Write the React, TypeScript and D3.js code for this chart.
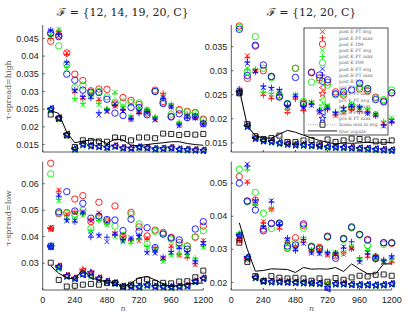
import * as d3 from 'd3';

// sample sizes on the x axis
const N = [60, 120, 180, 240, 300, 360, 420, 480, 540, 600, 660, 720, 780, 840, 900, 960, 1020, 1080, 1140, 1200];
const X_TICKS = [0, 240, 480, 720, 960, 1200];

const TITLES = ['\u2131 = {12, 14, 19, 20, C}', '\u2131 = {12, 20, C}'];
const ROW_LABELS = ['\u03c4-spread=high', '\u03c4-spread=low'];

const LEGEND_LABELS = [
  'post E PT avg', 'post E PT max', 'post E DM',
  'post K PT avg', 'post K PT max', 'post K DM',
  'post R PT avg', 'post R PT max', 'post R DM',
  'pre E PT avg', 'pre E PT max', 'pre K PT avg', 'pre K PT max',
  'pre R PT avg', 'pre R PT max', 'homo min in avg', 'true copula',
];

// ---- top left: tau-spread high, F = {12,14,19,20,C}
const tlPostEAvg = [0.0455, 0.0466, 0.0409, 0.0302, 0.0283, 0.0294, 0.0278, 0.0245, 0.0258, 0.0252, 0.0225, 0.0245, 0.0245, 0.0222, 0.0290, 0.0258, 0.0207, 0.0231, 0.0228, 0.0208];
const tlPostEMax = [0.0450, 0.0470, 0.0405, 0.0298, 0.0280, 0.0290, 0.0275, 0.0250, 0.0262, 0.0248, 0.0221, 0.0242, 0.0249, 0.0226, 0.0295, 0.0255, 0.0210, 0.0234, 0.0225, 0.0212];
const tlPostEDm = [0.0442, 0.0459, 0.0409, 0.0349, 0.0331, 0.0302, 0.0307, 0.0306, 0.0265, 0.0283, 0.0275, 0.0263, 0.0239, 0.0304, 0.0272, 0.0230, 0.0249, 0.0244, 0.0241, 0.0222];
const tlPostKAvg = [0.0462, 0.0476, 0.0365, 0.0277, 0.0263, 0.0292, 0.0263, 0.0248, 0.0298, 0.0255, 0.0228, 0.0250, 0.0250, 0.0226, 0.0286, 0.0262, 0.0210, 0.0234, 0.0232, 0.0212];
const tlPostKMax = [0.0458, 0.0474, 0.0368, 0.0280, 0.0266, 0.0288, 0.0266, 0.0252, 0.0294, 0.0258, 0.0231, 0.0253, 0.0246, 0.0229, 0.0282, 0.0265, 0.0213, 0.0237, 0.0235, 0.0215];
const tlPostKDm = [0.0463, 0.0429, 0.0377, 0.0311, 0.0318, 0.0295, 0.0300, 0.0285, 0.0270, 0.0270, 0.0268, 0.0268, 0.0245, 0.0300, 0.0268, 0.0236, 0.0246, 0.0242, 0.0239, 0.0219];
const tlPostRAvg = [0.0472, 0.0458, 0.0380, 0.0302, 0.0283, 0.0285, 0.0233, 0.0243, 0.0265, 0.0245, 0.0221, 0.0241, 0.0240, 0.0219, 0.0283, 0.0256, 0.0203, 0.0228, 0.0225, 0.0205];
const tlPostRMax = [0.0474, 0.0462, 0.0383, 0.0305, 0.0286, 0.0281, 0.0241, 0.0247, 0.0261, 0.0248, 0.0224, 0.0238, 0.0243, 0.0222, 0.0280, 0.0259, 0.0206, 0.0225, 0.0228, 0.0208];
const tlPostRDm = [0.0465, 0.0455, 0.0349, 0.0332, 0.0304, 0.0298, 0.0297, 0.0278, 0.0239, 0.0232, 0.0255, 0.0255, 0.0234, 0.0300, 0.0266, 0.0228, 0.0237, 0.0226, 0.0229, 0.0209];
const tlPreEAvg = [0.0252, 0.0226, 0.0180, 0.0138, 0.0151, 0.0148, 0.0146, 0.0144, 0.0147, 0.0142, 0.0141, 0.0144, 0.0142, 0.0139, 0.0140, 0.0142, 0.0138, 0.0137, 0.0136, 0.0135];
const tlPreEMax = [0.0250, 0.0223, 0.0177, 0.0136, 0.0149, 0.0146, 0.0144, 0.0142, 0.0145, 0.0140, 0.0139, 0.0142, 0.0140, 0.0137, 0.0138, 0.0140, 0.0136, 0.0135, 0.0134, 0.0133];
const tlPreKAvg = [0.0248, 0.0224, 0.0178, 0.0137, 0.0150, 0.0147, 0.0145, 0.0143, 0.0146, 0.0141, 0.0140, 0.0143, 0.0141, 0.0138, 0.0139, 0.0141, 0.0137, 0.0136, 0.0135, 0.0134];
const tlPreKMax = [0.0246, 0.0222, 0.0176, 0.0135, 0.0148, 0.0145, 0.0143, 0.0141, 0.0144, 0.0139, 0.0138, 0.0141, 0.0139, 0.0136, 0.0137, 0.0139, 0.0135, 0.0134, 0.0133, 0.0132];
const tlPreRAvg = [0.0251, 0.0225, 0.0179, 0.0139, 0.0152, 0.0147, 0.0145, 0.0143, 0.0146, 0.0141, 0.0140, 0.0143, 0.0141, 0.0138, 0.0139, 0.0141, 0.0137, 0.0136, 0.0135, 0.0134];
const tlPreRMax = [0.0249, 0.0224, 0.0178, 0.0137, 0.0150, 0.0146, 0.0144, 0.0142, 0.0145, 0.0140, 0.0139, 0.0142, 0.0140, 0.0137, 0.0138, 0.0140, 0.0136, 0.0135, 0.0134, 0.0133];
const tlHomo = [0.0235, 0.0224, 0.0176, 0.0143, 0.0162, 0.0160, 0.0159, 0.0158, 0.0170, 0.0168, 0.0162, 0.0170, 0.0170, 0.0168, 0.0181, 0.0180, 0.0177, 0.0180, 0.0178, 0.0180];
const tlTrue = [0.0246, 0.0238, 0.0185, 0.0155, 0.0160, 0.0163, 0.0163, 0.0153, 0.0165, 0.0163, 0.0148, 0.0147, 0.0150, 0.0153, 0.0155, 0.0158, 0.0158, 0.0153, 0.0150, 0.0148];

// ---- top right: tau-spread high, F = {12,20,C}
const trPostEAvg = [0.0256, 0.0331, 0.0298, 0.0252, 0.0245, 0.0252, 0.0215, 0.0245, 0.0220, 0.0234, 0.0212, 0.0222, 0.0206, 0.0212, 0.0222, 0.0218, 0.0215, 0.0207, 0.0190, 0.0197];
const trPostEMax = [0.0253, 0.0327, 0.0301, 0.0249, 0.0242, 0.0249, 0.0213, 0.0241, 0.0217, 0.0230, 0.0215, 0.0219, 0.0209, 0.0215, 0.0219, 0.0215, 0.0212, 0.0210, 0.0188, 0.0194];
const trPostEDm = [0.0393, 0.0284, 0.0351, 0.0300, 0.0288, 0.0247, 0.0230, 0.0305, 0.0233, 0.0297, 0.0285, 0.0276, 0.0256, 0.0249, 0.0223, 0.0262, 0.0258, 0.0245, 0.0237, 0.0254];
const trPostKAvg = [0.0262, 0.0305, 0.0300, 0.0258, 0.0250, 0.0255, 0.0222, 0.0247, 0.0225, 0.0232, 0.0218, 0.0228, 0.0212, 0.0214, 0.0226, 0.0225, 0.0218, 0.0212, 0.0192, 0.0202];
const trPostKMax = [0.0259, 0.0302, 0.0303, 0.0255, 0.0253, 0.0252, 0.0219, 0.0250, 0.0228, 0.0235, 0.0215, 0.0225, 0.0215, 0.0217, 0.0229, 0.0222, 0.0221, 0.0209, 0.0195, 0.0199];
const trPostKDm = [0.0390, 0.0298, 0.0371, 0.0305, 0.0285, 0.0249, 0.0232, 0.0305, 0.0236, 0.0276, 0.0280, 0.0270, 0.0250, 0.0252, 0.0228, 0.0266, 0.0262, 0.0243, 0.0240, 0.0260];
const trPostRAvg = [0.0259, 0.0315, 0.0300, 0.0265, 0.0262, 0.0258, 0.0225, 0.0249, 0.0223, 0.0228, 0.0215, 0.0225, 0.0210, 0.0220, 0.0228, 0.0222, 0.0211, 0.0209, 0.0185, 0.0195];
const trPostRMax = [0.0262, 0.0318, 0.0297, 0.0268, 0.0265, 0.0261, 0.0228, 0.0246, 0.0226, 0.0231, 0.0218, 0.0222, 0.0213, 0.0223, 0.0225, 0.0225, 0.0214, 0.0206, 0.0187, 0.0192];
const trPostRDm = [0.0386, 0.0290, 0.0353, 0.0312, 0.0288, 0.0245, 0.0231, 0.0286, 0.0230, 0.0296, 0.0291, 0.0281, 0.0252, 0.0256, 0.0260, 0.0274, 0.0263, 0.0240, 0.0235, 0.0254];
const trPreEAvg = [0.0257, 0.0186, 0.0161, 0.0156, 0.0154, 0.0151, 0.0149, 0.0148, 0.0147, 0.0146, 0.0145, 0.0143, 0.0143, 0.0142, 0.0141, 0.0140, 0.0139, 0.0138, 0.0137, 0.0136];
const trPreEMax = [0.0255, 0.0184, 0.0159, 0.0154, 0.0152, 0.0149, 0.0147, 0.0146, 0.0145, 0.0144, 0.0143, 0.0141, 0.0141, 0.0140, 0.0139, 0.0138, 0.0137, 0.0136, 0.0135, 0.0134];
const trPreKAvg = [0.0256, 0.0185, 0.0160, 0.0155, 0.0153, 0.0150, 0.0148, 0.0147, 0.0146, 0.0145, 0.0144, 0.0142, 0.0142, 0.0141, 0.0140, 0.0139, 0.0138, 0.0137, 0.0136, 0.0135];
const trPreKMax = [0.0254, 0.0183, 0.0158, 0.0153, 0.0151, 0.0148, 0.0146, 0.0145, 0.0144, 0.0143, 0.0142, 0.0140, 0.0140, 0.0139, 0.0138, 0.0137, 0.0136, 0.0135, 0.0134, 0.0133];
const trPreRAvg = [0.0256, 0.0186, 0.0160, 0.0155, 0.0153, 0.0150, 0.0148, 0.0146, 0.0146, 0.0145, 0.0144, 0.0142, 0.0141, 0.0141, 0.0140, 0.0139, 0.0138, 0.0137, 0.0136, 0.0135];
const trPreRMax = [0.0255, 0.0184, 0.0159, 0.0154, 0.0152, 0.0149, 0.0147, 0.0145, 0.0145, 0.0144, 0.0143, 0.0141, 0.0140, 0.0140, 0.0139, 0.0138, 0.0137, 0.0136, 0.0135, 0.0134];
const trHomo = [0.0253, 0.0189, 0.0164, 0.0158, 0.0160, 0.0165, 0.0152, 0.0152, 0.0155, 0.0156, 0.0147, 0.0157, 0.0152, 0.0155, 0.0159, 0.0158, 0.0157, 0.0153, 0.0152, 0.0155];
const trTrue = [0.0262, 0.0185, 0.0165, 0.0160, 0.0160, 0.0168, 0.0176, 0.0172, 0.0166, 0.0160, 0.0155, 0.0151, 0.0148, 0.0150, 0.0149, 0.0150, 0.0151, 0.0150, 0.0150, 0.0151];

// ---- bottom left: tau-spread low, F = {12,14,19,20,C}
const blPostEAvg = [0.0435, 0.0576, 0.0485, 0.0490, 0.0490, 0.0460, 0.0490, 0.0455, 0.0410, 0.0395, 0.0390, 0.0385, 0.0395, 0.0355, 0.0320, 0.0365, 0.0330, 0.0325, 0.0294, 0.0386];
const blPostEMax = [0.0430, 0.0572, 0.0481, 0.0494, 0.0486, 0.0464, 0.0486, 0.0451, 0.0414, 0.0399, 0.0386, 0.0389, 0.0391, 0.0359, 0.0316, 0.0361, 0.0334, 0.0321, 0.0298, 0.0382];
const blPostEDm = [0.0677, 0.0487, 0.0491, 0.0542, 0.0555, 0.0457, 0.0530, 0.0460, 0.0516, 0.0398, 0.0492, 0.0437, 0.0403, 0.0425, 0.0416, 0.0398, 0.0378, 0.0365, 0.0398, 0.0440];
const blPostKAvg = [0.0368, 0.0536, 0.0463, 0.0470, 0.0480, 0.0420, 0.0465, 0.0445, 0.0400, 0.0380, 0.0380, 0.0395, 0.0360, 0.0350, 0.0306, 0.0330, 0.0335, 0.0330, 0.0315, 0.0360];
const blPostKMax = [0.0364, 0.0540, 0.0467, 0.0466, 0.0484, 0.0424, 0.0461, 0.0449, 0.0404, 0.0384, 0.0376, 0.0391, 0.0364, 0.0346, 0.0310, 0.0334, 0.0331, 0.0334, 0.0319, 0.0364];
const blPostKDm = [0.0637, 0.0490, 0.0488, 0.0482, 0.0500, 0.0431, 0.0470, 0.0455, 0.0440, 0.0405, 0.0485, 0.0448, 0.0373, 0.0420, 0.0410, 0.0390, 0.0369, 0.0365, 0.0400, 0.0423];
const blPostRAvg = [0.0362, 0.0557, 0.0460, 0.0460, 0.0494, 0.0409, 0.0403, 0.0381, 0.0412, 0.0385, 0.0396, 0.0400, 0.0339, 0.0338, 0.0319, 0.0340, 0.0360, 0.0340, 0.0305, 0.0375];
const blPostRMax = [0.0360, 0.0553, 0.0464, 0.0456, 0.0490, 0.0398, 0.0407, 0.0398, 0.0408, 0.0389, 0.0392, 0.0404, 0.0343, 0.0342, 0.0323, 0.0344, 0.0356, 0.0344, 0.0309, 0.0371];
const blPostRDm = [0.0365, 0.0494, 0.0570, 0.0497, 0.0526, 0.0470, 0.0478, 0.0465, 0.0463, 0.0423, 0.0466, 0.0420, 0.0434, 0.0359, 0.0410, 0.0395, 0.0388, 0.0353, 0.0429, 0.0457];
const blPreEAvg = [0.0432, 0.0290, 0.0254, 0.0245, 0.0271, 0.0262, 0.0245, 0.0233, 0.0227, 0.0214, 0.0214, 0.0213, 0.0220, 0.0214, 0.0213, 0.0212, 0.0214, 0.0217, 0.0233, 0.0245];
const blPreEMax = [0.0430, 0.0288, 0.0252, 0.0243, 0.0274, 0.0259, 0.0243, 0.0231, 0.0225, 0.0212, 0.0212, 0.0211, 0.0218, 0.0212, 0.0211, 0.0210, 0.0212, 0.0215, 0.0231, 0.0243];
const blPreKAvg = [0.0365, 0.0282, 0.0250, 0.0242, 0.0258, 0.0252, 0.0242, 0.0230, 0.0224, 0.0211, 0.0211, 0.0210, 0.0217, 0.0211, 0.0210, 0.0209, 0.0211, 0.0214, 0.0230, 0.0242];
const blPreKMax = [0.0363, 0.0280, 0.0249, 0.0241, 0.0260, 0.0250, 0.0241, 0.0229, 0.0223, 0.0210, 0.0210, 0.0209, 0.0216, 0.0210, 0.0209, 0.0208, 0.0210, 0.0213, 0.0229, 0.0241];
const blPreRAvg = [0.0363, 0.0287, 0.0252, 0.0243, 0.0256, 0.0250, 0.0243, 0.0231, 0.0225, 0.0212, 0.0212, 0.0211, 0.0218, 0.0212, 0.0211, 0.0210, 0.0212, 0.0215, 0.0231, 0.0243];
const blPreRMax = [0.0362, 0.0285, 0.0251, 0.0242, 0.0258, 0.0265, 0.0242, 0.0230, 0.0224, 0.0211, 0.0211, 0.0210, 0.0217, 0.0211, 0.0210, 0.0209, 0.0211, 0.0214, 0.0230, 0.0242];
const blHomo = [0.0302, 0.0237, 0.0212, 0.0215, 0.0219, 0.0222, 0.0219, 0.0225, 0.0225, 0.0212, 0.0219, 0.0234, 0.0239, 0.0226, 0.0226, 0.0224, 0.0231, 0.0232, 0.0247, 0.0272];
const blTrue = [0.0290, 0.0262, 0.0245, 0.0240, 0.0276, 0.0245, 0.0236, 0.0230, 0.0226, 0.0212, 0.0225, 0.0245, 0.0250, 0.0237, 0.0222, 0.0212, 0.0216, 0.0221, 0.0225, 0.0225];

// ---- bottom right: tau-spread low, F = {12,20,C}
const brPostEAvg = [0.0330, 0.0505, 0.0438, 0.0384, 0.0420, 0.0366, 0.0325, 0.0305, 0.0325, 0.0292, 0.0298, 0.0282, 0.0288, 0.0285, 0.0305, 0.0270, 0.0280, 0.0272, 0.0265, 0.0265];
const brPostEMax = [0.0327, 0.0501, 0.0434, 0.0380, 0.0424, 0.0362, 0.0321, 0.0309, 0.0321, 0.0296, 0.0302, 0.0286, 0.0284, 0.0289, 0.0301, 0.0274, 0.0276, 0.0268, 0.0269, 0.0261];
const brPostEDm = [0.0520, 0.0446, 0.0449, 0.0361, 0.0379, 0.0378, 0.0303, 0.0335, 0.0372, 0.0307, 0.0306, 0.0340, 0.0280, 0.0333, 0.0365, 0.0345, 0.0330, 0.0275, 0.0320, 0.0318];
const brPostKAvg = [0.0340, 0.0544, 0.0440, 0.0375, 0.0424, 0.0379, 0.0322, 0.0308, 0.0332, 0.0295, 0.0290, 0.0290, 0.0292, 0.0290, 0.0310, 0.0268, 0.0300, 0.0270, 0.0262, 0.0270];
const brPostKMax = [0.0337, 0.0540, 0.0436, 0.0371, 0.0420, 0.0375, 0.0326, 0.0304, 0.0336, 0.0299, 0.0294, 0.0294, 0.0288, 0.0294, 0.0306, 0.0272, 0.0296, 0.0274, 0.0266, 0.0274];
const brPostKDm = [0.0542, 0.0443, 0.0472, 0.0409, 0.0363, 0.0380, 0.0305, 0.0320, 0.0364, 0.0310, 0.0300, 0.0337, 0.0284, 0.0330, 0.0366, 0.0343, 0.0311, 0.0278, 0.0315, 0.0320];
const brPostRAvg = [0.0343, 0.0558, 0.0445, 0.0366, 0.0447, 0.0378, 0.0330, 0.0300, 0.0318, 0.0288, 0.0286, 0.0286, 0.0285, 0.0308, 0.0302, 0.0261, 0.0290, 0.0276, 0.0261, 0.0276];
const brPostRMax = [0.0340, 0.0552, 0.0449, 0.0370, 0.0443, 0.0374, 0.0334, 0.0296, 0.0330, 0.0292, 0.0290, 0.0290, 0.0289, 0.0304, 0.0323, 0.0265, 0.0286, 0.0280, 0.0265, 0.0280];
const brPostRDm = [0.0500, 0.0446, 0.0419, 0.0356, 0.0378, 0.0379, 0.0310, 0.0313, 0.0377, 0.0308, 0.0302, 0.0338, 0.0273, 0.0332, 0.0368, 0.0345, 0.0328, 0.0272, 0.0320, 0.0320];
const brPreEAvg = [0.0330, 0.0272, 0.0216, 0.0205, 0.0203, 0.0203, 0.0202, 0.0201, 0.0200, 0.0199, 0.0198, 0.0196, 0.0197, 0.0197, 0.0195, 0.0194, 0.0194, 0.0193, 0.0194, 0.0197];
const brPreEMax = [0.0328, 0.0270, 0.0214, 0.0203, 0.0201, 0.0201, 0.0200, 0.0199, 0.0198, 0.0197, 0.0196, 0.0194, 0.0195, 0.0195, 0.0193, 0.0192, 0.0192, 0.0191, 0.0192, 0.0195];
const brPreKAvg = [0.0348, 0.0276, 0.0215, 0.0204, 0.0202, 0.0202, 0.0201, 0.0200, 0.0199, 0.0198, 0.0197, 0.0195, 0.0196, 0.0196, 0.0194, 0.0193, 0.0193, 0.0192, 0.0193, 0.0196];
const brPreKMax = [0.0346, 0.0274, 0.0213, 0.0202, 0.0200, 0.0200, 0.0199, 0.0198, 0.0197, 0.0196, 0.0195, 0.0193, 0.0194, 0.0194, 0.0192, 0.0191, 0.0191, 0.0190, 0.0191, 0.0194];
const brPreRAvg = [0.0343, 0.0277, 0.0215, 0.0204, 0.0202, 0.0202, 0.0201, 0.0200, 0.0199, 0.0198, 0.0197, 0.0180, 0.0196, 0.0196, 0.0194, 0.0193, 0.0193, 0.0192, 0.0193, 0.0196];
const brPreRMax = [0.0341, 0.0275, 0.0214, 0.0203, 0.0201, 0.0201, 0.0200, 0.0199, 0.0198, 0.0197, 0.0196, 0.0184, 0.0195, 0.0195, 0.0193, 0.0192, 0.0192, 0.0191, 0.0192, 0.0195];
const brHomo = [0.0320, 0.0262, 0.0219, 0.0204, 0.0219, 0.0214, 0.0212, 0.0214, 0.0212, 0.0205, 0.0212, 0.0202, 0.0213, 0.0208, 0.0215, 0.0220, 0.0218, 0.0223, 0.0224, 0.0220];
const brTrue = [0.0380, 0.0300, 0.0234, 0.0236, 0.0241, 0.0240, 0.0239, 0.0230, 0.0245, 0.0240, 0.0241, 0.0240, 0.0245, 0.0233, 0.0256, 0.0240, 0.0226, 0.0226, 0.0256, 0.0256];

const RED = '#ff0000';
const GREEN = '#00ee00';
const BLUE = '#0000ff';

type Marker = 'x' | '+' | 'o' | '<' | 'p' | 's';

// colour + marker for the 15 marker series, legend order
const STYLES: { color: string; marker: Marker }[] = [
  { color: RED, marker: 'x' }, { color: RED, marker: '+' }, { color: RED, marker: 'o' },
  { color: GREEN, marker: 'x' }, { color: GREEN, marker: '+' }, { color: GREEN, marker: 'o' },
  { color: BLUE, marker: 'x' }, { color: BLUE, marker: '+' }, { color: BLUE, marker: 'o' },
  { color: RED, marker: '<' }, { color: RED, marker: 'p' },
  { color: GREEN, marker: '<' }, { color: GREEN, marker: 'p' },
  { color: BLUE, marker: '<' }, { color: BLUE, marker: 'p' },
];

const PANEL_SERIES = [
  [tlPostEAvg, tlPostEMax, tlPostEDm, tlPostKAvg, tlPostKMax, tlPostKDm, tlPostRAvg, tlPostRMax, tlPostRDm, tlPreEAvg, tlPreEMax, tlPreKAvg, tlPreKMax, tlPreRAvg, tlPreRMax],
  [trPostEAvg, trPostEMax, trPostEDm, trPostKAvg, trPostKMax, trPostKDm, trPostRAvg, trPostRMax, trPostRDm, trPreEAvg, trPreEMax, trPreKAvg, trPreKMax, trPreRAvg, trPreRMax],
  [blPostEAvg, blPostEMax, blPostEDm, blPostKAvg, blPostKMax, blPostKDm, blPostRAvg, blPostRMax, blPostRDm, blPreEAvg, blPreEMax, blPreKAvg, blPreKMax, blPreRAvg, blPreRMax],
  [brPostEAvg, brPostEMax, brPostEDm, brPostKAvg, brPostKMax, brPostKDm, brPostRAvg, brPostRMax, brPostRDm, brPreEAvg, brPreEMax, brPreKAvg, brPreKMax, brPreRAvg, brPreRMax],
];
const PANEL_HOMO = [tlHomo, trHomo, blHomo, brHomo];
const PANEL_TRUE = [tlTrue, trTrue, blTrue, brTrue];

const Y_TICKS = [
  [0.015, 0.02, 0.025, 0.03, 0.035, 0.04, 0.045],
  [0.015, 0.02, 0.025, 0.03, 0.035],
  [0.03, 0.04, 0.05, 0.06],
  [0.02, 0.03, 0.04, 0.05],
];
const Y_DOMAINS: [number, number][] = [[0.0129, 0.0488], [0.0131, 0.0395], [0.0199, 0.0683], [0.0177, 0.0565]];

// layout (pixel boxes for the four axes)
const BOXES = [
  { left: 42.7, right: 203.3, top: 25, bottom: 152 },
  { left: 231.3, right: 391.7, top: 25, bottom: 152 },
  { left: 42.7, right: 203.3, top: 161.7, bottom: 290 },
  { left: 231.3, right: 391.7, top: 161.7, bottom: 290 },
];

const starPath = d3.symbol().type(d3.symbolStar).size(15)() as string;

function markerPath(m: Marker) {
  switch (m) {
    case 'x': return 'M-2.4,-2.4L2.4,2.4M-2.4,2.4L2.4,-2.4';
    case '+': return 'M-3,0L3,0M0,-3L0,3';
    case '<': return 'M-3.2,0L2.6,-3.1L2.6,3.1Z';
    case 'p': return starPath;
    case 's': return 'M-2.5,-2.5h5v5h-5Z';
    default: return '';
  }
}

function Mark({ x, y, m, color }: { x: number; y: number; m: Marker; color: string }) {
  if (m === 'o') return <circle cx={x} cy={y} r={3.2} fill="none" stroke={color} strokeWidth={0.85} />;
  return <path d={markerPath(m)} transform={`translate(${x},${y})`} fill="none" stroke={color} strokeWidth={0.85} />;
}

const TICK_FONT = 'Liberation Sans, Arial, sans-serif';
const SERIF = 'DejaVu Serif, Liberation Serif, serif';

function Panel({ idx }: { idx: number }) {
  const box = BOXES[idx];
  const x = d3.scaleLinear().domain([0, 1200]).range([box.left, box.right]);
  const y = d3.scaleLinear().domain(Y_DOMAINS[idx]).range([box.bottom, box.top]);
  const line = d3.line<number>().x((_, i) => x(N[i])).y(d => y(d));
  const showX = idx >= 2;

  return (
    <g>
      {/* axes */}
      <line x1={box.left} x2={box.left} y1={box.top} y2={box.bottom} stroke="#333" strokeWidth={0.8} />
      <line x1={box.left} x2={box.right} y1={box.bottom} y2={box.bottom} stroke="#333" strokeWidth={0.8} />
      {Y_TICKS[idx].map(t => (
        <g key={t}>
          <line x1={box.left} x2={box.left + 2} y1={y(t)} y2={y(t)} stroke="#333" strokeWidth={0.8} />
          <text x={box.left - 4} y={y(t)} dy="0.35em" textAnchor="end" fontFamily={TICK_FONT} fontSize={9} fill="#222">{String(t)}</text>
        </g>
      ))}
      {X_TICKS.map(t => (
        <g key={t}>
          <line x1={x(t)} x2={x(t)} y1={box.bottom} y2={box.bottom - 2} stroke="#333" strokeWidth={0.8} />
          {showX && (
            <text x={x(t)} y={box.bottom + 13} textAnchor="middle" fontFamily={TICK_FONT} fontSize={9} fill="#222">{t}</text>
          )}
        </g>
      ))}
      {showX && (
        <text x={(box.left + box.right) / 2} y={box.bottom + 21} textAnchor="middle" fontFamily={SERIF} fontStyle="italic" fontSize={8} fill="#555">n</text>
      )}

      {/* marker series */}
      {PANEL_SERIES[idx].map((vals, s) => (
        <g key={s}>
          {vals.map((v, i) => (
            <Mark key={i} x={x(N[i])} y={y(v)} m={STYLES[s].marker} color={STYLES[s].color} />
          ))}
        </g>
      ))}

      {/* homogeneous baseline: dotted with squares */}
      <path d={line(PANEL_HOMO[idx]) as string} fill="none" stroke="#444" strokeWidth={0.6} strokeDasharray="0.8 1.6" />
      {PANEL_HOMO[idx].map((v, i) => (
        <Mark key={i} x={x(N[i])} y={y(v)} m="s" color="#000" />
      ))}

      {/* true copula */}
      <path d={line(PANEL_TRUE[idx]) as string} fill="none" stroke="#000" strokeWidth={1} />
    </g>
  );
}

function Legend() {
  const left = 304;
  const top = 28;
  const w = 84;
  const h = 107;
  const row = 6.2;
  const mx = 322.5;
  return (
    <g>
      <rect x={left} y={top} width={w} height={h} fill="none" stroke="#222" strokeWidth={0.8} />
      {LEGEND_LABELS.map((lab, i) => {
        const yy = top + 3.7 + i * row;
        return (
          <g key={lab}>
            {i < 15 && <Mark x={mx} y={yy} m={STYLES[i].marker} color={STYLES[i].color} />}
            {i === 15 && (
              <>
                <line x1={308} x2={337} y1={yy} y2={yy} stroke="#444" strokeWidth={0.6} strokeDasharray="0.8 1.6" />
                <Mark x={mx} y={yy} m="s" color="#000" />
              </>
            )}
            {i === 16 && <line x1={308} x2={337} y1={yy} y2={yy} stroke="#444" strokeWidth={1.2} />}
            <text x={339} y={yy} dy="0.35em" fontFamily={SERIF} fontSize={4.6} fill="#666">{lab}</text>
          </g>
        );
      })}
    </g>
  );
}

export default function App() {
  return (
    <svg width={407} height={314} style={{ position: 'absolute', left: 0, top: 0, background: '#fff' }}>
      <text x={123} y={16} textAnchor="middle" fontFamily={SERIF} fontSize={11} fill="#222">{TITLES[0]}</text>
      <text x={311.5} y={16} textAnchor="middle" fontFamily={SERIF} fontSize={11} fill="#222">{TITLES[1]}</text>
      <text transform="translate(11,90) rotate(-90)" textAnchor="middle" fontFamily={SERIF} fontSize={8} fill="#555">{ROW_LABELS[0]}</text>
      <text transform="translate(11,218) rotate(-90)" textAnchor="middle" fontFamily={SERIF} fontSize={8} fill="#555">{ROW_LABELS[1]}</text>
      <Legend />
      {[0, 1, 2, 3].map(i => <Panel key={i} idx={i} />)}
    </svg>
  );
}
